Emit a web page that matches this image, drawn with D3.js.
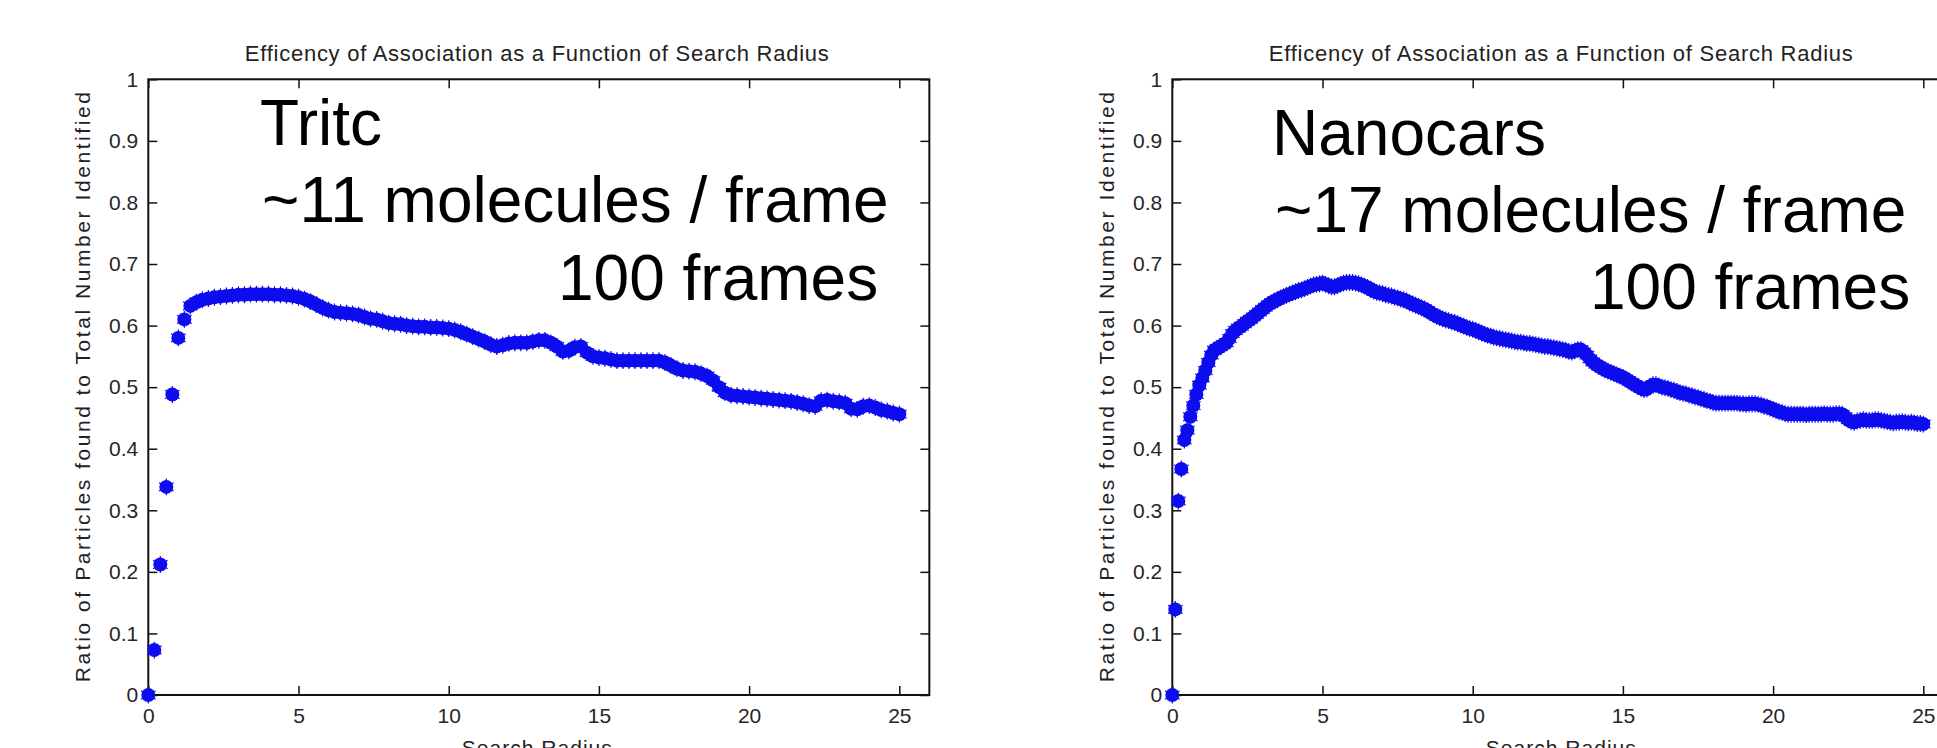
<!DOCTYPE html>
<html>
<head>
<meta charset="utf-8">
<script src="https://cdn.jsdelivr.net/npm/d3@7"></script>
<style>
    body { margin: 0; background: #fff; }
    svg { display: block; }
    .axis text { font-family: "Liberation Sans", Arial, sans-serif; font-size: 21px; fill: #262626; }
    .axis line { stroke: #111; stroke-width: 1.5; }
    .axis path { display: none; }
    .frame { fill: none; stroke: #111; stroke-width: 2; }
    .title, .axis-label { font-family: "Liberation Sans", Arial, sans-serif; fill: #222; }
    .note { font-family: "Liberation Sans", Arial, sans-serif; font-size: 64px; fill: #000; }
</style>
</head>
<body>
<div id="chart"></div>
<script>
// Axis ticks
const xTicks = [0, 5, 10, 15, 20, 25];
const yTicks = [0, 0.1, 0.2, 0.3, 0.4, 0.5, 0.6, 0.7, 0.8, 0.9, 1];
const yTickLabels = ["0", "0.1", "0.2", "0.3", "0.4", "0.5", "0.6", "0.7", "0.8", "0.9", "1"];
const xDomain = [0, 26];
const yDomain = [0, 1];

const titleText = "Efficency of Association as a Function of Search Radius";
const xLabelText = "Search Radius";
const yLabelText = "Ratio of Particles found to Total Number Identified";

// Tritc: search radius sampled every 0.2 (0 .. 25)
const tritcStep = 0.2;
const tritcRatio = [
    0, 0.073, 0.212, 0.338, 0.488,
    0.580, 0.610, 0.632, 0.638, 0.642,
    0.644, 0.646, 0.647, 0.648, 0.649,
    0.650, 0.650, 0.651, 0.651, 0.651,
    0.651, 0.650, 0.650, 0.649, 0.648,
    0.646, 0.643, 0.639, 0.634, 0.629,
    0.625, 0.622, 0.621, 0.620, 0.619,
    0.617, 0.614, 0.611, 0.610, 0.607,
    0.604, 0.603, 0.602, 0.600, 0.599,
    0.598, 0.598, 0.597, 0.597, 0.596,
    0.595, 0.593, 0.590, 0.586, 0.582,
    0.578, 0.574, 0.569, 0.566, 0.568,
    0.571, 0.572, 0.572, 0.572, 0.574,
    0.576, 0.576, 0.572, 0.566, 0.558,
    0.559, 0.565, 0.566, 0.556, 0.550,
    0.548, 0.547, 0.545, 0.543, 0.543,
    0.543, 0.543, 0.543, 0.543, 0.543,
    0.543, 0.540, 0.535, 0.530, 0.527,
    0.526, 0.525, 0.522, 0.518, 0.511,
    0.500, 0.491, 0.487, 0.486, 0.485,
    0.484, 0.483, 0.482, 0.481, 0.480,
    0.479, 0.478, 0.477, 0.475, 0.473,
    0.470, 0.469, 0.478, 0.479, 0.477,
    0.476, 0.474, 0.465, 0.464, 0.469,
    0.470, 0.467, 0.463, 0.461, 0.458,
    0.456
];
const tritcNote = ["Tritc", "~11 molecules / frame", "100 frames"];

// Nanocars: search radius sampled every 0.1 (0 .. 25)
const nanocarStep = 0.1;
const nanocarRatio = [
    0, 0.139, 0.315, 0.367, 0.414, 0.430, 0.452, 0.470, 0.488, 0.503,
    0.515, 0.527, 0.540, 0.552, 0.560, 0.563, 0.566, 0.569, 0.572, 0.579,
    0.587, 0.592, 0.596, 0.599, 0.603, 0.607, 0.610, 0.614, 0.618, 0.622,
    0.626, 0.630, 0.634, 0.637, 0.640, 0.642, 0.645, 0.647, 0.649, 0.651,
    0.653, 0.655, 0.657, 0.658, 0.660, 0.662, 0.664, 0.666, 0.667, 0.668,
    0.669, 0.667, 0.665, 0.663, 0.663, 0.665, 0.667, 0.669, 0.670, 0.670,
    0.670, 0.669, 0.668, 0.666, 0.664, 0.662, 0.659, 0.656, 0.654, 0.653,
    0.652, 0.650, 0.649, 0.648, 0.646, 0.645, 0.643, 0.642, 0.640, 0.637,
    0.635, 0.633, 0.631, 0.629, 0.627, 0.624, 0.621, 0.618, 0.615, 0.613,
    0.611, 0.609, 0.608, 0.606, 0.605, 0.603, 0.601, 0.599, 0.597, 0.595,
    0.594, 0.592, 0.590, 0.588, 0.586, 0.584, 0.583, 0.581, 0.580, 0.579,
    0.578, 0.577, 0.576, 0.575, 0.574, 0.573, 0.573, 0.572, 0.571, 0.571,
    0.570, 0.569, 0.568, 0.567, 0.566, 0.566, 0.565, 0.564, 0.563, 0.562,
    0.561, 0.560, 0.558, 0.557, 0.559, 0.561, 0.561, 0.557, 0.552, 0.546,
    0.541, 0.537, 0.534, 0.531, 0.528, 0.526, 0.524, 0.522, 0.520, 0.518,
    0.516, 0.513, 0.510, 0.507, 0.504, 0.501, 0.498, 0.496, 0.497, 0.501,
    0.504, 0.504, 0.502, 0.500, 0.499, 0.498, 0.496, 0.495, 0.493, 0.491,
    0.490, 0.489, 0.487, 0.486, 0.484, 0.483, 0.481, 0.480, 0.478, 0.477,
    0.475, 0.474, 0.474, 0.474, 0.474, 0.474, 0.474, 0.474, 0.474, 0.473,
    0.473, 0.472, 0.473, 0.473, 0.473, 0.472, 0.471, 0.469, 0.468, 0.466,
    0.464, 0.462, 0.460, 0.459, 0.457, 0.456, 0.456, 0.456, 0.456, 0.456,
    0.456, 0.455, 0.456, 0.456, 0.456, 0.456, 0.456, 0.457, 0.456, 0.456,
    0.456, 0.457, 0.457, 0.456, 0.452, 0.447, 0.444, 0.443, 0.445, 0.446,
    0.447, 0.446, 0.446, 0.446, 0.447, 0.447, 0.446, 0.445, 0.444, 0.443,
    0.442, 0.443, 0.443, 0.444, 0.443, 0.442, 0.443, 0.442, 0.441, 0.441,
    0.440
];
const nanocarNote = ["Nanocars", "~17 molecules / frame", "100 frames"];

// Page layout
const width = 1937;
const height = 748;
const plotTop = 79.3;
const plotBottom = 695;
const plotWidth = 26 * 30.04;
const markerColor = "#0d0dee";

const panels = [
    {left: 148.3, values: tritcRatio, step: tritcStep, note: tritcNote,
     notePos: [[260, 145], [262, 222], [558, 300]]},
    {left: 1172.3, values: nanocarRatio, step: nanocarStep, note: nanocarNote,
     notePos: [[1272, 155], [1275, 231.5], [1590, 309]]}
];

const svg = d3.select("#chart")
    .append("svg")
    .attr("width", width)
    .attr("height", height);

svg.append("rect")
    .attr("width", width)
    .attr("height", height)
    .attr("fill", "#fff");

const star = d3.symbol().type(d3.symbolAsterisk).size(200);

function drawPanel(p) {
    const xScale = d3.scaleLinear()
        .domain(xDomain)
        .range([p.left, p.left + plotWidth]);

    const yScale = d3.scaleLinear()
        .domain(yDomain)
        .range([plotBottom, plotTop]);

    const g = svg.append("g");
    const [x0, x1] = xScale.range();
    const cx = (x0 + x1) / 2;

    // Axes (ticks pointing inward, MATLAB style box)
    g.append("g")
        .attr("class", "axis")
        .attr("transform", `translate(0,${plotBottom})`)
        .call(d3.axisBottom(xScale).tickValues(xTicks)
            .tickSize(-9).tickSizeOuter(0).tickPadding(13)
            .tickFormat(d3.format("d")));

    g.append("g")
        .attr("class", "axis")
        .attr("transform", `translate(0,${plotTop})`)
        .call(d3.axisTop(xScale).tickValues(xTicks)
            .tickSize(-9).tickSizeOuter(0).tickFormat(""));

    g.append("g")
        .attr("class", "axis")
        .attr("transform", `translate(${x0},0)`)
        .call(d3.axisLeft(yScale).tickValues(yTicks)
            .tickSize(-9).tickSizeOuter(0).tickPadding(10)
            .tickFormat((d, i) => yTickLabels[i]));

    g.append("g")
        .attr("class", "axis")
        .attr("transform", `translate(${x1},0)`)
        .call(d3.axisRight(yScale).tickValues(yTicks)
            .tickSize(-9).tickSizeOuter(0).tickFormat(""));

    g.append("rect")
        .attr("class", "frame")
        .attr("x", x0)
        .attr("y", yScale(1))
        .attr("width", x1 - x0)
        .attr("height", yScale(0) - yScale(1));

    // Title and axis labels
    g.append("text")
        .attr("class", "title")
        .attr("x", cx - 2)
        .attr("y", 61)
        .attr("text-anchor", "middle")
        .attr("textLength", 584)
        .attr("lengthAdjust", "spacing")
        .style("font-size", "22px")
        .text(titleText);

    g.append("text")
        .attr("class", "axis-label")
        .attr("transform", `translate(${x0 - 66}, ${(plotTop + plotBottom) / 2}) rotate(-90)`)
        .attr("dy", "0.35em")
        .attr("text-anchor", "middle")
        .attr("textLength", 590)
        .attr("lengthAdjust", "spacing")
        .style("font-size", "21px")
        .text(yLabelText);

    g.append("text")
        .attr("class", "axis-label")
        .attr("x", cx - 2)
        .attr("y", 755)
        .attr("text-anchor", "middle")
        .attr("textLength", 150)
        .attr("lengthAdjust", "spacing")
        .style("font-size", "21px")
        .text(xLabelText);

    // Data markers
    const points = p.values.map((v, i) => ({r: i * p.step, v: v}));

    g.selectAll(".dot")
        .data(points)
        .join("circle")
        .attr("class", "dot")
        .attr("cx", d => xScale(d.r))
        .attr("cy", d => yScale(d.v))
        .attr("r", 7)
        .style("fill", markerColor);

    g.selectAll(".spike")
        .data(points)
        .join("path")
        .attr("class", "spike")
        .attr("d", star)
        .attr("transform", d => `translate(${xScale(d.r)},${yScale(d.v)})`)
        .style("fill", "none")
        .style("stroke", markerColor)
        .style("stroke-width", 1.2);

    // Annotation
    g.selectAll(".note")
        .data(p.note)
        .join("text")
        .attr("class", "note")
        .attr("x", (d, i) => p.notePos[i][0])
        .attr("y", (d, i) => p.notePos[i][1])
        .text(d => d);
}

panels.forEach(drawPanel);
</script>
</body>
</html>
